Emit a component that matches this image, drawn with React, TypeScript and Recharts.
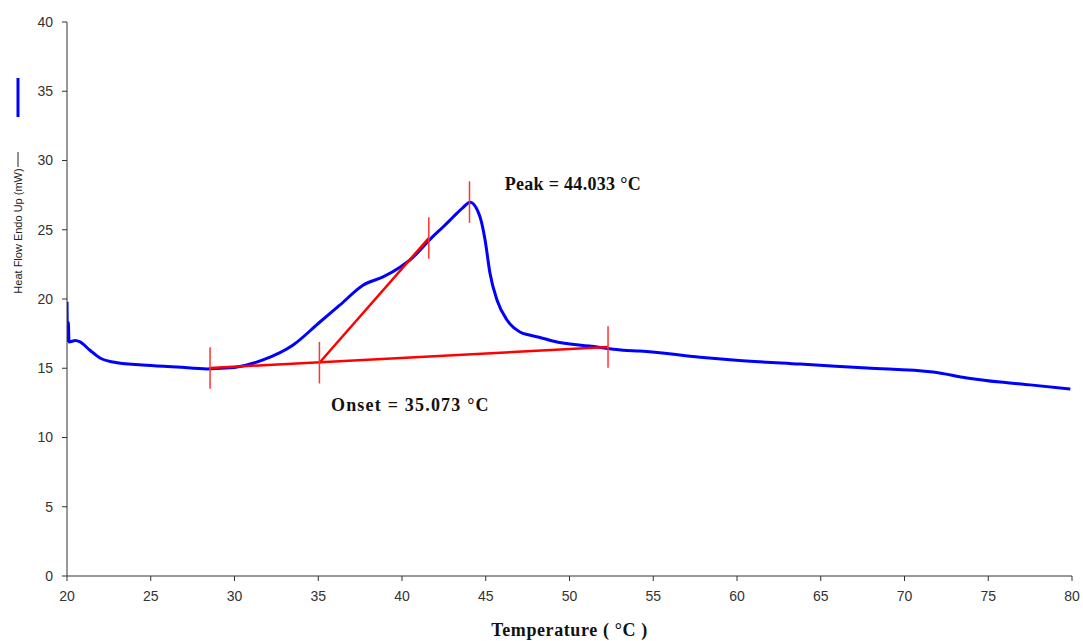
import { LineChart, Line, XAxis, YAxis, ReferenceLine, ReferenceDot } from 'recharts';

// DSC scan: temperature (°C) vs heat flow (mW)
const temperature = [
  20, 20.03, 20.08, 20.12, 20.5, 20.78, 21.37, 21.97, 22.75, 24.5, 26.57, 28.36, 29.0, 30.15,
  31.7, 33.5, 35.1, 36.3, 37.67, 38.87, 39.88, 40.6, 41.25, 41.67, 42.45, 43.04, 43.64, 44.06,
  44.66, 44.96, 45.25, 45.67, 46.27, 47.04, 47.6, 48.12, 49.25, 51.2, 53.2, 54.2, 57.8,
  59.76, 63.76, 67.76, 71.7, 73.73, 75.7, 77.5, 79.9,
];
const heatFlow = [
  19.8, 17.0, 18.3, 16.9, 17.0, 16.9, 16.3, 15.74, 15.45, 15.23, 15.09, 14.95, 14.98, 15.09,
  15.6, 16.68, 18.34, 19.57, 21.0, 21.6, 22.3, 22.95, 23.75, 24.3, 25.2, 25.9, 26.6, 26.98,
  25.92, 24.26, 21.88, 19.93, 18.48, 17.62, 17.4, 17.26, 16.9, 16.6, 16.3, 16.25, 15.8,
  15.6, 15.3, 15.02, 14.73, 14.3, 14.0, 13.8, 13.5,
];

const baselineT = [28.54, 52.3];
const baselineY = [15.02, 16.53];
const tangentT = [35.07, 41.6];
const tangentY = [15.4, 24.4];
const markerT = [28.54, 35.07, 41.6, 44.03, 52.3];
const markerY = [15.02, 15.4, 24.4, 27.0, 16.53];

const xTicks = [20, 25, 30, 35, 40, 45, 50, 55, 60, 65, 70, 75, 80];
const yTicks = [0, 5, 10, 15, 20, 25, 30, 35, 40];

const curve = temperature.map((t, i) => ({ t, v: heatFlow[i] }));
const baseline = baselineT.map((t, i) => ({ t, v: baselineY[i] }));
const tangent = tangentT.map((t, i) => ({ t, v: tangentY[i] }));

const tickStyle = { fontFamily: 'Liberation Sans, Arial, sans-serif', fontSize: 14, fill: '#333' };
const noteStyle = {
  fontFamily: 'Liberation Serif, Times New Roman, serif',
  fontSize: 18,
  fontWeight: 700,
  fill: '#111',
};

function YLabel() {
  return (
    <g>
      <line x1={18} y1={78} x2={18} y2={117} stroke="#0000ff" strokeWidth={3} />
      <line x1={18} y1={152} x2={18} y2={167} stroke="#222" strokeWidth={1} />
      <text
        x={18}
        y={231}
        transform="rotate(-90 18 231)"
        textAnchor="middle"
        dominantBaseline="central"
        style={{ fontFamily: 'Liberation Sans, Arial, sans-serif', fontSize: 11, fill: '#222' }}
      >
        Heat Flow Endo Up (mW)
      </text>
    </g>
  );
}

export default function App() {
  return (
    <div style={{ position: 'absolute', left: 0, top: 0, background: '#fff' }}>
      <LineChart width={1083} height={641} margin={{ top: 22, right: 11, bottom: 0, left: 0 }}>
        <XAxis
          dataKey="t"
          type="number"
          domain={[20, 80]}
          ticks={xTicks}
          allowDataOverflow
          stroke="#333"
          tickSize={5}
          tickMargin={10}
          tick={tickStyle}
          height={65}
          label={{
            value: 'Temperature ( °C )',
            position: 'insideBottom',
            offset: 5,
            style: { ...noteStyle, letterSpacing: 0.6 },
          }}
        />
        <YAxis
          type="number"
          domain={[0, 40]}
          ticks={yTicks}
          stroke="#333"
          tickSize={5}
          tickMargin={9}
          tick={tickStyle}
          width={67}
          label={{ content: () => <YLabel /> }}
        />
        <Line
          data={curve}
          dataKey="v"
          type="monotone"
          stroke="#0000ff"
          strokeWidth={3}
          dot={false}
          isAnimationActive={false}
        />
        <Line
          data={baseline}
          dataKey="v"
          type="linear"
          stroke="#ff0000"
          strokeWidth={2.5}
          dot={false}
          isAnimationActive={false}
        />
        <Line
          data={tangent}
          dataKey="v"
          type="linear"
          stroke="#ff0000"
          strokeWidth={2.5}
          dot={false}
          isAnimationActive={false}
        />
        {markerT.map((t, i) => (
          <ReferenceLine
            key={t}
            segment={[
              { x: t, y: markerY[i] - 1.5 },
              { x: t, y: markerY[i] + 1.5 },
            ]}
            stroke="#ff3333"
            strokeWidth={1.5}
          />
        ))}
        <ReferenceDot
          x={50.2}
          y={28.35}
          r={0}
          label={{ value: 'Peak = 44.033 °C', position: 'center', style: { ...noteStyle, letterSpacing: 0.3 } }}
        />
        <ReferenceDot
          x={40.5}
          y={12.35}
          r={0}
          label={{ value: 'Onset = 35.073 °C', position: 'center', style: { ...noteStyle, letterSpacing: 1.2 } }}
        />
      </LineChart>
    </div>
  );
}
